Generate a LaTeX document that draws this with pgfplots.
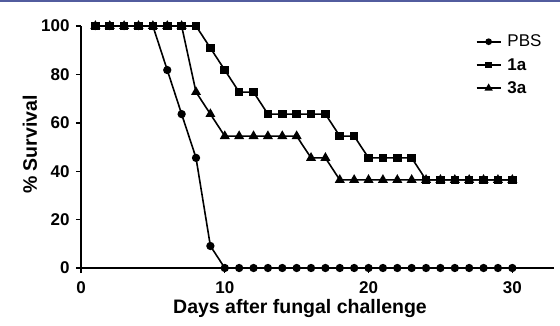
\documentclass[border=0pt]{standalone}
\usepackage{fontspec}
\setmainfont{Liberation Sans}
\usepackage{pgfplots}
\pgfplotsset{compat=1.18}
\begin{document}
\begin{tikzpicture}[x=1bp,y=1bp]
\path[use as bounding box] (-81,-57) rectangle (479,268);
\fill[color={rgb,255:red,82;green,92;blue,158}] (-81,266.5) rectangle (479,268);
\begin{axis}[
  scale only axis, width=473bp, height=242bp,
  xmin=0, xmax=32.9, ymin=0, ymax=100,
  axis lines*=left,
  axis line style={line width=1.6bp},
  tick align=outside, major tick length=5bp,
  tick style={line width=1.4bp, black},
  xtick={0,10,20,30}, ytick={0,20,40,60,80,100},
  minor tick num=0,
  clip=false,
  /pgf/number format/assume math mode=true,
  xticklabel style={font=\fontsize{17bp}{19bp}\selectfont\bfseries, yshift=-5bp},
  yticklabel style={font=\fontsize{17bp}{19bp}\selectfont\bfseries, xshift=-3bp},
  xlabel={Days after fungal challenge},
  ylabel={\% Survival},
  xlabel style={font=\fontsize{19.5bp}{21bp}\selectfont\bfseries, at={(axis description cs:0.463,0)}, anchor=center, yshift=-40bp},
  ylabel style={font=\fontsize{19.5bp}{21bp}\selectfont\bfseries, at={(axis description cs:-0.108,0.51)}, anchor=center},
  legend style={draw=none, fill=none, at={(axis description cs:0.828,0.98)}, anchor=north west, font=\fontsize{17bp}{19bp}\selectfont, row sep=6bp, nodes={inner xsep=6bp},
    /tikz/every even column/.append style={column sep=7bp}},
  legend cell align=left,
  legend image code/.code={\draw[mark repeat=2,mark phase=2] plot coordinates {(0bp,0bp)(12bp,0bp)(24bp,0bp)};},
  every axis plot/.append style={line width=1.6bp, black},
]
\addlegendimage{black, line width=1.6bp, mark=*, mark size=2.5bp}
\addlegendentry{PBS}
\addlegendimage{black, line width=1.6bp, mark=square*, mark size=2.6bp}
\addlegendentry{\textbf{1a}}
\addlegendimage{black, line width=1.6bp, mark=triangle*, mark size=3.2bp}
\addlegendentry{\textbf{3a}}
\addplot[forget plot, mark=*, mark size=3.3bp] coordinates {
(1,100)(2,100)(3,100)(4,100)(5,100)(6,81.8)(7,63.6)(8,45.5)(9,9.1)(10,0)
(11,0)(12,0)(13,0)(14,0)(15,0)(16,0)(17,0)(18,0)(19,0)(20,0)
(21,0)(22,0)(23,0)(24,0)(25,0)(26,0)(27,0)(28,0)(29,0)(30,0)};
\addplot[forget plot, mark=triangle*, mark size=4.2bp, mark options={solid}] coordinates {
(1,100)(2,100)(3,100)(4,100)(5,100)(6,100)(7,100)(8,72.7)(9,63.6)(10,54.5)
(11,54.5)(12,54.5)(13,54.5)(14,54.5)(15,54.5)(16,45.5)(17,45.5)(18,36.4)(19,36.4)(20,36.4)
(21,36.4)(22,36.4)(23,36.4)(24,36.4)(25,36.4)(26,36.4)(27,36.4)(28,36.4)(29,36.4)(30,36.4)};
\addplot[forget plot, mark=square*, mark size=3.5bp] coordinates {
(1,100)(2,100)(3,100)(4,100)(5,100)(6,100)(7,100)(8,100)(9,90.9)(10,81.8)
(11,72.7)(12,72.7)(13,63.6)(14,63.6)(15,63.6)(16,63.6)(17,63.6)(18,54.5)(19,54.5)(20,45.5)
(21,45.5)(22,45.5)(23,45.5)(24,36.4)(25,36.4)(26,36.4)(27,36.4)(28,36.4)(29,36.4)(30,36.4)};
\end{axis}
\end{tikzpicture}
\end{document}
